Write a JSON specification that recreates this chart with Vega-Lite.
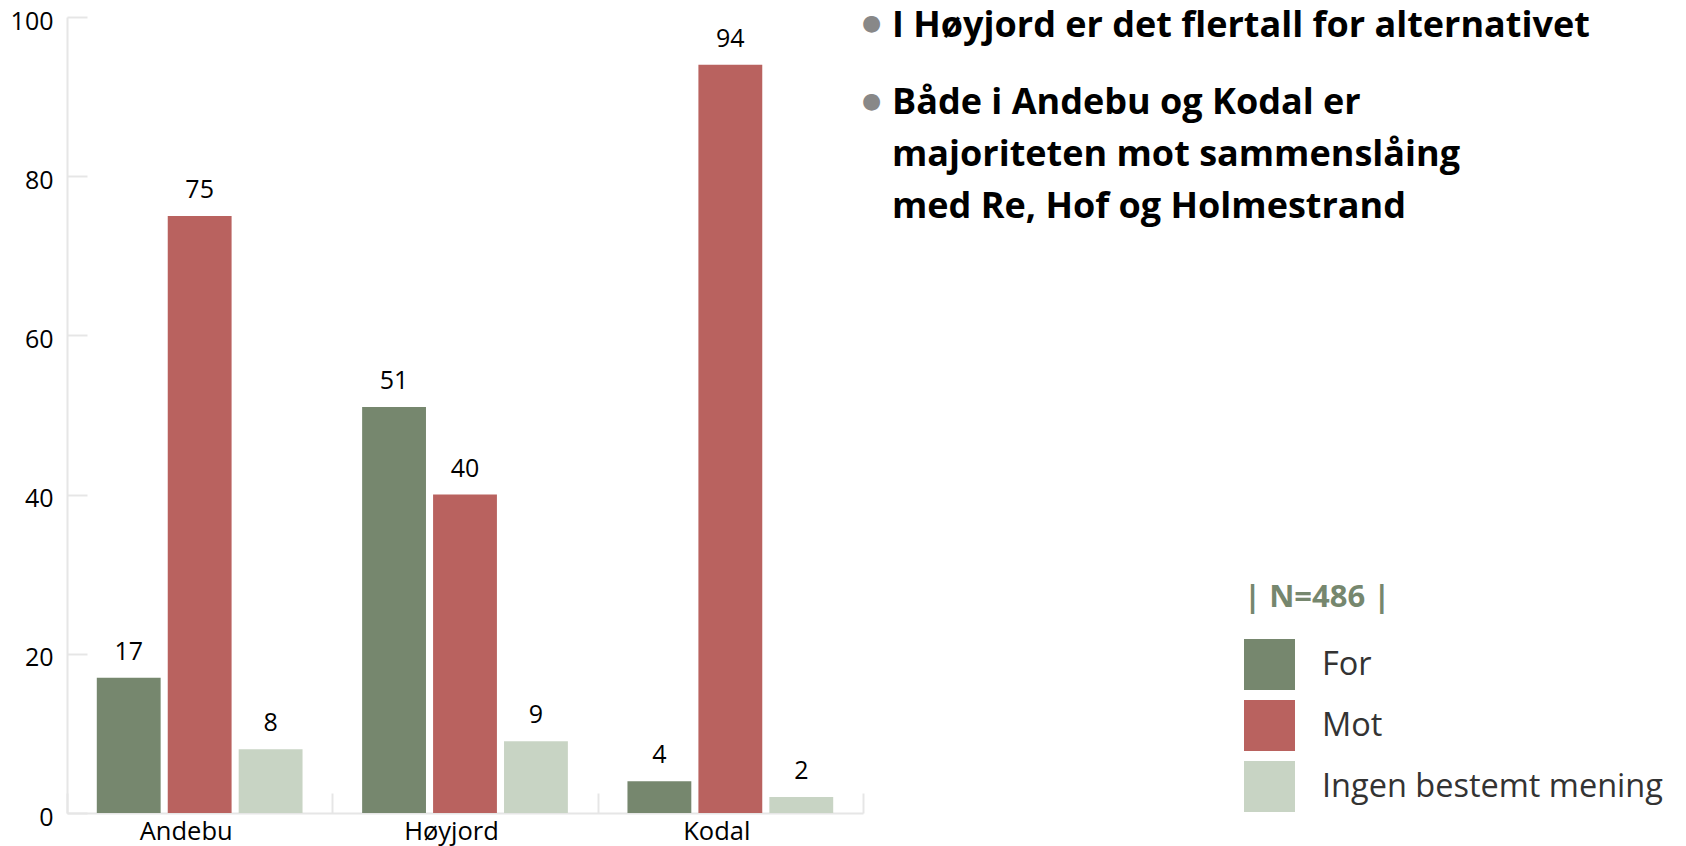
{
  "$schema": "https://vega.github.io/schema/vega-lite/v6.json",
  "width": 796,
  "height": 796,
  "autosize": {"type": "none"},
  "padding": {"left": 67, "top": 17, "right": 823, "bottom": 33},
  "background": "white",
  "config": {
    "view": {"stroke": null},
    "font": "Open Sans",
    "axis": {
      "domainColor": "#e6e6e6",
      "domainWidth": 2,
      "tickColor": "#e6e6e6",
      "tickWidth": 2,
      "tickSize": -20,
      "labelColor": "#000000",
      "labelFont": "Open Sans",
      "labelFontSize": 25,
      "grid": false
    }
  },
  "title": {
    "text": "I Høyjord er det flertall for alternativet",
    "subtitle": ["Både i Andebu og Kodal er", "majoriteten mot sammenslåing", "med Re, Hof og Holmestrand"],
    "anchor": "start",
    "frame": "group",
    "orient": "top",
    "baseline": "top",
    "offset": -217,
    "dx": 825,
    "font": "Open Sans",
    "fontSize": 36,
    "fontWeight": "bold",
    "color": "#000000",
    "subtitleFont": "Open Sans",
    "subtitleFontSize": 36,
    "subtitleFontWeight": "bold",
    "subtitleColor": "#000000",
    "subtitleLineHeight": 52,
    "subtitlePadding": 41
  },
  "data": {
    "values": [
      {"kommune": "Andebu", "svar": "For", "prosent": 17},
      {"kommune": "Andebu", "svar": "Mot", "prosent": 75},
      {"kommune": "Andebu", "svar": "Ingen bestemt mening", "prosent": 8},
      {"kommune": "Høyjord", "svar": "For", "prosent": 51},
      {"kommune": "Høyjord", "svar": "Mot", "prosent": 40},
      {"kommune": "Høyjord", "svar": "Ingen bestemt mening", "prosent": 9},
      {"kommune": "Kodal", "svar": "For", "prosent": 4},
      {"kommune": "Kodal", "svar": "Mot", "prosent": 94},
      {"kommune": "Kodal", "svar": "Ingen bestemt mening", "prosent": 2}
    ]
  },
  "encoding": {
    "x": {
      "field": "kommune",
      "type": "nominal",
      "sort": ["Andebu", "Høyjord", "Kodal"],
      "scale": {"paddingInner": 0, "paddingOuter": 0},
      "axis": {
        "title": null,
        "labelAngle": 0,
        "tickBand": "extent",
        "labelPadding": 26,
        "labelOffset": -14,
        "labelFontSize": 25.5
      }
    },
    "xOffset": {
      "field": "svar",
      "type": "nominal",
      "sort": ["For", "Mot", "Ingen bestemt mening"],
      "scale": {"paddingInner": 0.1, "paddingOuter": 0.42}
    },
    "y": {
      "field": "prosent",
      "type": "quantitative",
      "scale": {"domain": [0, 100], "nice": false},
      "axis": {
        "values": [0, 20, 40, 60, 80, 100],
        "labelPadding": 34,
        "labelOffset": 4,
        "title": ["●", "●"],
        "titleAngle": 0,
        "titleX": 804,
        "titleY": 5,
        "titleAlign": "center",
        "titleBaseline": "middle",
        "titleLineHeight": 78,
        "titleFont": "DejaVu Sans",
        "titleFontSize": 22,
        "titleFontWeight": "normal",
        "titleColor": "#888888"
      }
    }
  },
  "layer": [
    {
      "mark": {"type": "bar"},
      "encoding": {
        "color": {
          "field": "svar",
          "type": "nominal",
          "sort": ["For", "Mot", "Ingen bestemt mening"],
          "scale": {
            "domain": ["For", "Mot", "Ingen bestemt mening"],
            "range": ["#76876E", "#B9625F", "#C8D4C4"]
          },
          "legend": {
            "orient": "none",
            "legendX": 1177,
            "legendY": 566,
            "title": "| N=486 |",
            "titleFont": "Open Sans",
            "titleFontSize": 31,
            "titleFontWeight": "bold",
            "titleColor": "#76876E",
            "titlePadding": 25,
            "symbolType": "square",
            "symbolSize": 2601,
            "symbolStrokeWidth": 0,
            "symbolOpacity": 1,
            "labelFont": "Open Sans",
            "labelFontSize": 32.5,
            "labelColor": "#333333",
            "labelOffset": 27,
            "rowPadding": 10,
            "labelLimit": 600
          }
        }
      }
    },
    {
      "mark": {"type": "text", "baseline": "alphabetic", "dy": -18, "fontSize": 25, "color": "#000000", "font": "Open Sans"},
      "encoding": {"text": {"field": "prosent", "type": "quantitative"}}
    }
  ]
}
